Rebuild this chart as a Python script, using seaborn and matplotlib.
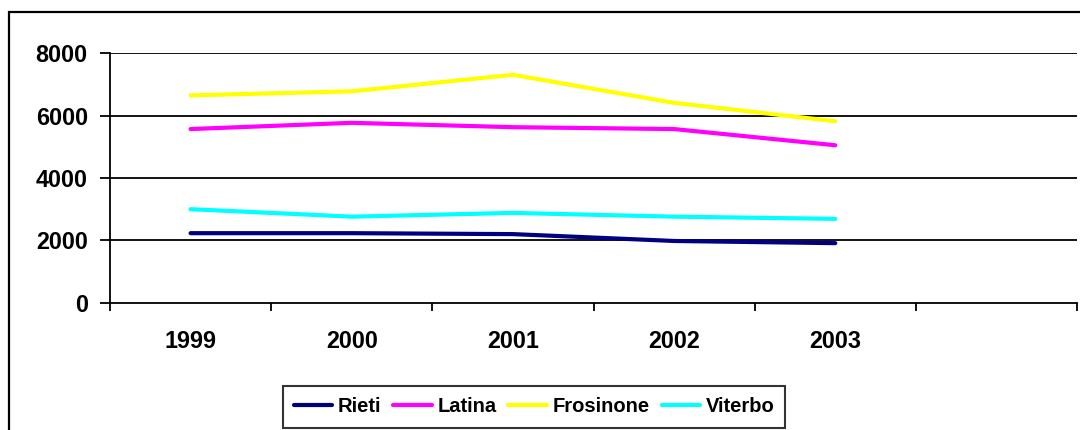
import matplotlib
matplotlib.use("Agg")
import matplotlib.pyplot as plt
from matplotlib.patches import Rectangle
from matplotlib.ticker import FixedLocator
import numpy as np
import pandas as pd
import seaborn as sns

years = [1999, 2000, 2001, 2002, 2003]
rieti = [2230, 2230, 2200, 1980, 1910]
latina = [5570, 5770, 5630, 5570, 5050]
frosinone = [6650, 6780, 7310, 6410, 5820]
viterbo = [3000, 2760, 2880, 2760, 2690]
series_names = ["Rieti", "Latina", "Frosinone", "Viterbo"]
colors = ["#000080", "#FF00FF", "#FFFF00", "#00FFFF"]
yticks = [0, 2000, 4000, 6000, 8000]

df = pd.DataFrame({
    "anno": years * 4,
    "valore": rieti + latina + frosinone + viterbo,
    "provincia": sum([[n] * len(years) for n in series_names], []),
})

sns.set_style("white")
plt.rcParams["font.family"] = ["Liberation Sans", "DejaVu Sans"]
plt.rcParams["font.weight"] = "bold"
plt.rcParams["text.color"] = "black"
plt.rcParams["xtick.color"] = "black"
plt.rcParams["ytick.color"] = "black"

fig = plt.figure(figsize=(10.8, 4.3), dpi=100)
ax = fig.add_axes([110 / 1080, 127.3 / 430, 967 / 1080, 249.4 / 430])

sns.lineplot(data=df, x="anno", y="valore", hue="provincia",
             palette=dict(zip(series_names, colors)), hue_order=series_names,
             linewidth=3, ax=ax, legend=False, solid_capstyle="round")

ax.set_xlim(years[0] - 0.5, years[-1] + 1.5)
ax.set_ylim(0, 8000)
ax.set_yticks(yticks)
ax.set_yticklabels([str(v) for v in yticks], fontsize=16.8, fontweight="bold", color="black")
for v in yticks[1:]:
    ax.axhline(v, color="black", lw=1.3, zorder=0)

bounds = np.arange(years[0] - 0.5, years[-1] + 2, 1.0)
ax.xaxis.set_major_locator(FixedLocator(bounds))
ax.xaxis.set_minor_locator(FixedLocator(years))
ax.set_xticklabels([""] * len(bounds))
ax.set_xticklabels([str(y) for y in years], minor=True, fontsize=16.8, fontweight="bold", color="black")
ax.tick_params(axis="x", which="major", length=6, width=1.3, color="black", direction="out", bottom=True)
ax.tick_params(axis="x", which="minor", length=0, pad=20)
ax.tick_params(axis="y", length=7, width=1.3, color="black", direction="out", left=True, pad=9)
ax.set_xlabel("")
ax.set_ylabel("")

for s in ["top", "right"]:
    ax.spines[s].set_visible(False)
for s in ["left", "bottom"]:
    ax.spines[s].set_color("black")
    ax.spines[s].set_linewidth(1.3)

handles = [plt.Line2D([], [], color=c, lw=3, solid_capstyle="round") for c in colors]
leg = fig.legend(handles, series_names, loc="center", bbox_to_anchor=(534 / 1080, 23 / 430),
                 ncol=4, frameon=True, fancybox=False, edgecolor="black",
                 prop={"family": "Liberation Sans", "weight": "bold", "size": 14.5},
                 handlelength=1.9, handletextpad=0.28, columnspacing=0.6,
                 borderpad=0.55, borderaxespad=0)
leg.get_frame().set_linewidth(1.5)
for t in leg.get_texts():
    t.set_color("black")

fig.patches.append(Rectangle((9 / 1080, -0.1), 1.2, (418 / 430) + 0.1, transform=fig.transFigure,
                             fill=False, edgecolor="black", lw=1.6))

fig.savefig("out.png", dpi=100)
